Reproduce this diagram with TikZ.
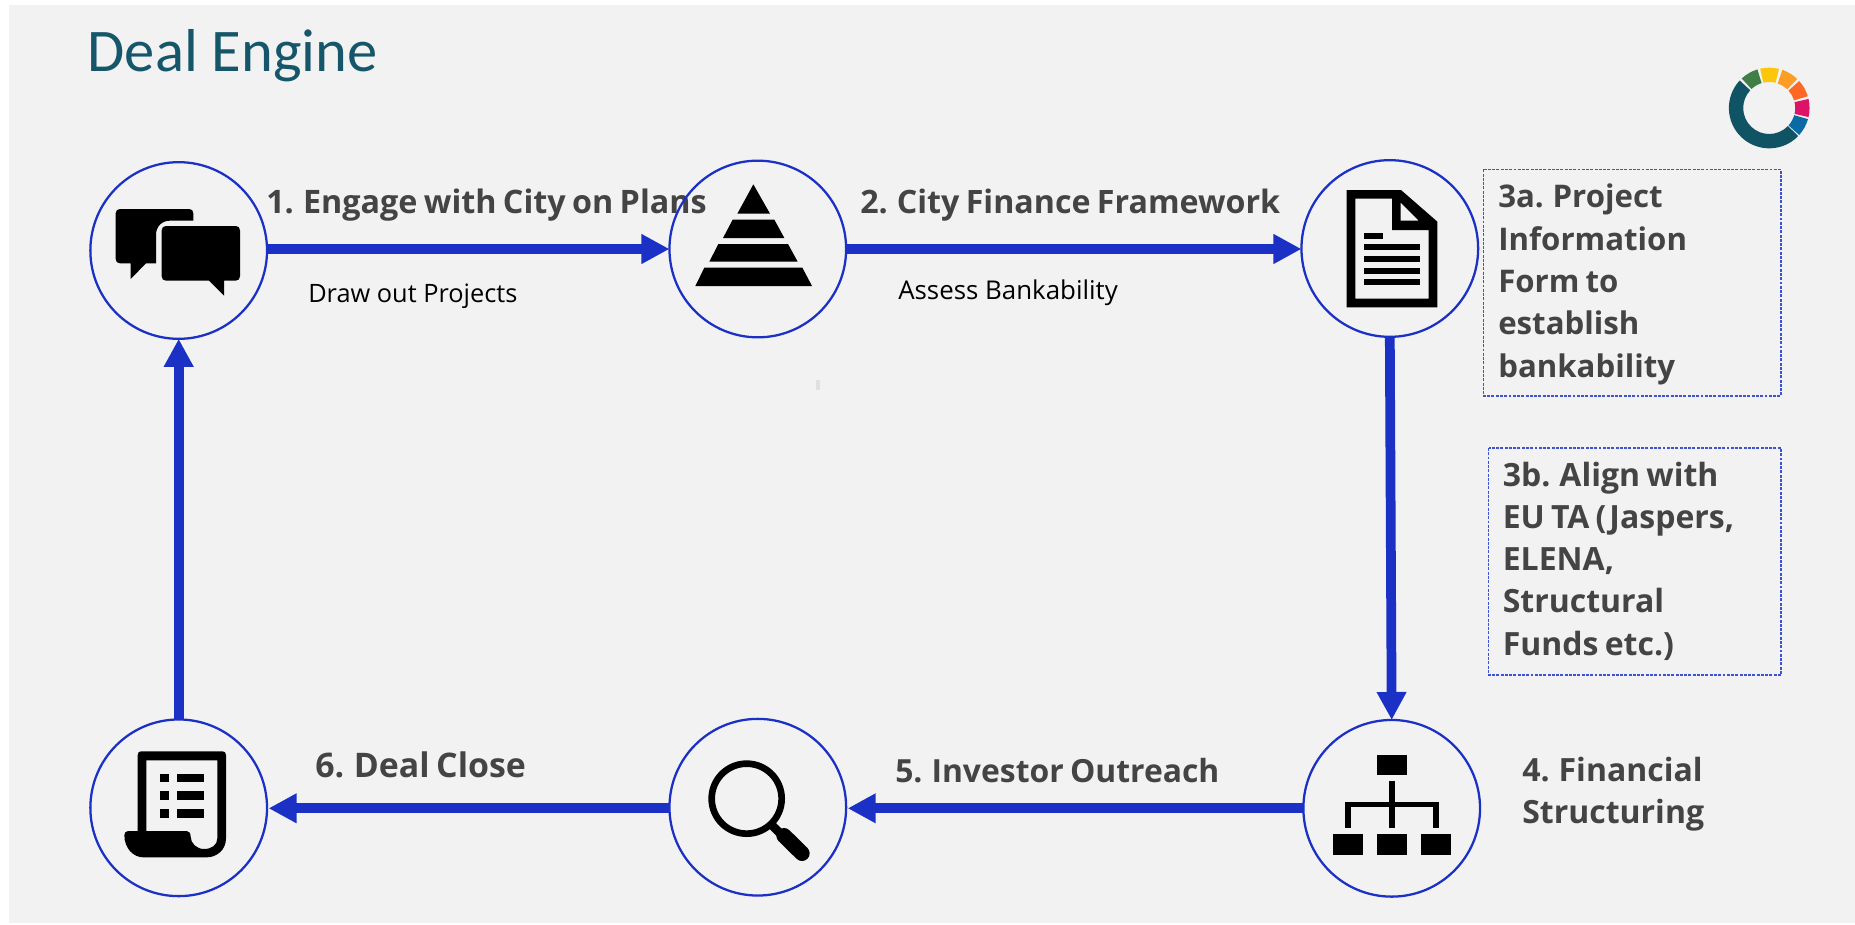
\documentclass[tikz,border=0pt]{standalone}
\usepackage{fontspec}
\setmainfont{Open Sans}
\newfontfamily\titlefont{Carlito}
\newfontfamily\labfont{Open Sans}[WordSpace=0.75]
\definecolor{bgc}{HTML}{F2F2F2}
\definecolor{blu}{HTML}{1B30C4}
\definecolor{teal1}{HTML}{15566A}
\definecolor{txt}{HTML}{444444}
\definecolor{dashc}{HTML}{3F52D2}
\definecolor{sdgdark}{HTML}{0F5364}
\definecolor{sdgblue}{HTML}{0A6AA3}
\definecolor{sdgmag}{HTML}{DD1367}
\definecolor{sdgor}{HTML}{FD6925}
\definecolor{sdglo}{HTML}{FD9D24}
\definecolor{sdgyl}{HTML}{FDC60A}
\definecolor{sdggr}{HTML}{3F7E44}
\usetikzlibrary{arrows.meta}
\newcommand{\ringseg}[3]{\fill[#3] (#1:121) arc[start angle=#1,end angle=#2,radius=121] -- (#2:78) arc[start angle=#2,end angle=#1,radius=78] -- cycle;}
\newcommand{\labsize}[1]{\fontsize{#1}{24}\labfont\bfseries}
\tikzset{
 x=0.75pt,y=-0.75pt,
 stage/.style={circle,draw=blu,line width=1.7pt,minimum size=132.5pt,inner sep=0pt,outer sep=0pt},
 flow/.style={draw=blu,line width=7.3pt,-{Triangle[length=21pt,width=21pt]}},
 lab/.style={text=txt,anchor=base west,inner sep=0pt},
 sub/.style={font=\fontsize{19}{19}\selectfont,text=black,anchor=base west,inner sep=0pt},
 notebox/.style={draw=dashc,dash pattern=on 2.2pt off 1pt,line width=0.9pt},
 notetext/.style={text=txt,align=left,anchor=north west,inner sep=0pt},
 zoomed/.style={x=0.25pt,y=-0.25pt},
 hole/.style={fill=black,even odd rule}
}
\begin{document}
\begin{tikzpicture}
\useasboundingbox (0,0) rectangle (1855,924);
\fill[white] (0,0) rectangle (1855,924);
\fill[bgc] (9,4.7) rectangle (1855,923);
\fill[black!12] (816,380) rectangle (820,390);
\node[font=\fontsize{45.4}{45}\titlefont,text=teal1,anchor=base west,inner sep=0pt] (title) at (87.5,71) {Deal Engine};
% labels
\node[lab,font=\labsize{24.25}] (l1) at (266,213) {1. Engage with City on Plans};
\node[lab,font=\labsize{24.15}] (l2) at (860,213) {2. City Finance Framework};
\node[sub] (s1) at (308,302) {Draw out Projects};
\node[sub,font=\fontsize{19.4}{19}\selectfont] (s2) at (898,299.5) {Assess Bankability};
\node[lab,font=\labsize{23.9}] (l5) at (895,782) {5. Investor Outreach};
\node[lab,font=\labsize{25.4}] (l6) at (315,777) {6. Deal Close};
\node[notetext,font=\fontsize{24}{31.6}\labfont\bfseries] (l4) at (1522,757) {4. Financial\\Structuring};
% note boxes
\draw[notebox] (1483.5,169.3) rectangle (1781,396);
\draw[notebox] (1488.7,448) rectangle (1781,675);
\node[notetext,font=\fontsize{23.4}{31.7}\labfont\bfseries] (n3a) at (1498,184) {3a. Project\\Information\\Form to\\establish\\bankability};
\node[notetext,font=\fontsize{24}{31.7}\labfont\bfseries] (n3b) at (1502.5,461.5) {3b. Align with\\EU TA (Jaspers,\\ELENA,\\Structural\\Funds etc.)};
% circles
\node[stage] (c1) at (178.7,250.5) {};
\node[stage] (c2) at (757.8,249) {};
\node[stage] (c3) at (1389.8,248.5) {};
\node[stage] (c4) at (1391.7,808.3) {};
\node[stage] (c5) at (757.8,807.2) {};
\node[stage] (c6) at (178.7,807.8) {};
% connectors
\draw[flow] (c1.east |- c2.west) -- (c2.west);
\draw[flow] (c2.east) -- (c3.west |- c2.east);
\draw[flow] (c3.south) -- (c4.north);
\draw[flow,shorten >=1.2pt] (c4.west) -- (c4.west -| c5.east);
\draw[flow,shorten >=1.2pt] (c4.west -| c5.west) -- (c4.west -| c6.east);
\draw[flow] (c6.north) -- (c1.south);
% icon 1: speech bubbles
\begin{scope}[shift={(60,140)},zoomed]
\fill[black] (180,207) -- (388,207) .. controls (395,207) and (400,212) .. (400,220) -- (400,242) -- (330,242) .. controls (305,242) and (288,260) .. (288,285) -- (288,370) -- (258,370) -- (212,417) -- (212,370) -- (180,370) .. controls (172,370) and (167,365) .. (167,357) -- (167,220) .. controls (167,212) and (172,207) .. (180,207) -- cycle;
\fill[black] (318,258) -- (527,258) .. controls (535,258) and (540,263) .. (540,271) -- (540,409) .. controls (540,417) and (535,422) .. (527,422) -- (492,422) -- (492,467) -- (447,422) -- (318,422) .. controls (310,422) and (305,417) .. (305,409) -- (305,271) .. controls (305,263) and (310,258) .. (318,258) -- cycle;
\end{scope}
% icon 2: pyramid
\begin{scope}[shift={(650,150)},zoomed]
\fill[black] (310,103) -- (360,191) -- (262,191) -- cycle;
\fill[black] (248,209) -- (373,209) -- (403,264) -- (219,264) -- cycle;
\fill[black] (205,282) -- (414,282) -- (443,335) -- (178,335) -- cycle;
\fill[black] (163,353) -- (457,353) -- (486,408) -- (136,408) -- cycle;
\end{scope}
% icon 3: document
\begin{scope}[shift={(1280,150)},zoomed]
\path[hole] (200,120) -- (363,120) -- (472,215) -- (472,472) -- (200,472) -- cycle
 (226,146) -- (336,146) -- (336,240) -- (446,240) -- (446,446) -- (226,446) -- cycle
 (362,158) -- (416,212) -- (362,212) -- cycle;
\fill[black] (252,248) rectangle (310,266);
\fill[black] (252,283) rectangle (420,301);
\fill[black] (252,318) rectangle (420,336);
\fill[black] (252,353) rectangle (420,371);
\fill[black] (252,388) rectangle (420,406);
\end{scope}
% icon 4: hierarchy
\begin{scope}[shift={(1280,700)},zoomed]
\fill[black] (292,164) rectangle (381,226);
\fill[black] (160,402) rectangle (248,464);
\fill[black] (292,402) rectangle (381,464);
\fill[black] (424,402) rectangle (512,464);
\fill[black] (327,243) rectangle (345,384);
\fill[black] (195,305) rectangle (477,322);
\fill[black] (195,305) rectangle (213,384);
\fill[black] (459,305) rectangle (477,384);
\end{scope}
% icon 5: magnifier
\begin{scope}[shift={(650,700)},zoomed]
\draw[black,line width=5pt] (290,296) circle[radius=105];
\draw[black,line width=6.5pt] (362,372) -- (400,410);
\draw[black,line width=11.5pt,line cap=round] (402,407) -- (456,460);
\end{scope}
% icon 6: list scroll
\begin{scope}[shift={(70,700)},zoomed]
\path[hole] (203,393) -- (203,165) .. controls (203,158) and (207,154) .. (213,154) -- (458,154) .. controls (464,154) and (468,158) .. (468,165) -- (468,415) .. controls (468,450) and (440,472) .. (410,472) -- (220,472) .. controls (190,472) and (163,445) .. (163,405) .. controls (163,398) and (168,393) .. (175,393) -- cycle
 (229,181) -- (442,181) -- (442,415) .. controls (442,435) and (425,447) .. (402,447) .. controls (380,447) and (362,430) .. (362,410) .. controls (362,398) and (356,393) .. (350,393) -- (229,393) -- cycle;
\fill[black] (269,221) rectangle (296,247);
\fill[black] (269,274) rectangle (296,300);
\fill[black] (269,327) rectangle (296,353);
\fill[black] (322,221) rectangle (402,247);
\fill[black] (322,274) rectangle (402,300);
\fill[black] (322,327) rectangle (402,353);
\end{scope}
% logo ring
\begin{scope}[shift={(1769.2,108)},x=0.25pt,y=0.25pt]
\ringseg{137}{316}{sdgdark}
\ringseg{318}{344}{sdgblue}
\ringseg{347}{373}{sdgmag}
\ringseg{17}{42}{sdgor}
\ringseg{46}{71}{sdglo}
\ringseg{76}{103}{sdgyl}
\ringseg{107}{133}{sdggr}
\end{scope}
\end{tikzpicture}
\end{document}
